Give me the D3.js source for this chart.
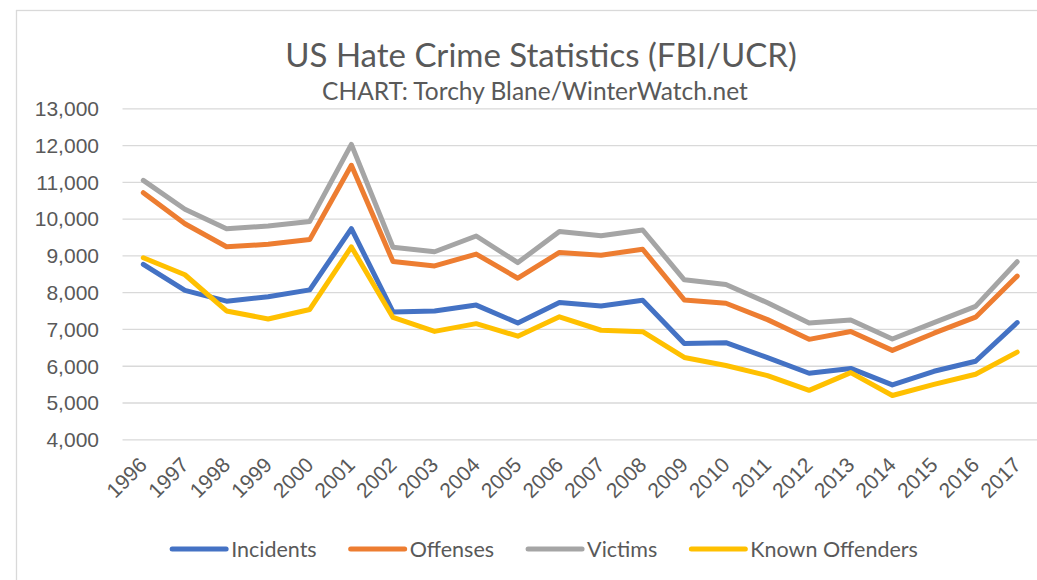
<!DOCTYPE html>
<html>
<head>
<meta charset="utf-8">
<script src="https://cdn.jsdelivr.net/npm/d3@7"></script>
<style>
  body { margin: 0; background: #fff; }
  svg { display: block; font-family: Lato, "Open Sans", sans-serif; }
</style>
</head>
<body>
<div id="chart"></div>
<script>
// data
var years = [1996, 1997, 1998, 1999, 2000, 2001, 2002, 2003, 2004, 2005, 2006,
             2007, 2008, 2009, 2010, 2011, 2012, 2013, 2014, 2015, 2016, 2017];

var incidents = [8759, 8049, 7755, 7876, 8063, 9730, 7462, 7489, 7649, 7163, 7722,
                 7624, 7783, 6604, 6628, 6222, 5796, 5928, 5479, 5850, 6121, 7175];
var offenses  = [10706, 9861, 9235, 9301, 9430, 11451, 8832, 8715, 9035, 8380, 9080,
                 9006, 9168, 7789, 7699, 7254, 6718, 6933, 6418, 6885, 7321, 8437];
var victims   = [11039, 10255, 9722, 9802, 9924, 12020, 9222, 9100, 9528, 8804, 9652,
                 9535, 9691, 8336, 8208, 7713, 7164, 7242, 6727, 7173, 7615, 8828];
var offenders = [8935, 8474, 7489, 7271, 7530, 9231, 7314, 6934, 7145, 6804, 7330,
                 6965, 6927, 6225, 6008, 5731, 5331, 5814, 5192, 5493, 5770, 6370];

var seriesNames  = ["Incidents", "Offenses", "Victims", "Known Offenders"];
var seriesColors = ["#4472C4", "#ED7D31", "#A5A5A5", "#FFC000"];
var yTicks = [4000, 5000, 6000, 7000, 8000, 9000, 10000, 11000, 12000, 13000];

var chartTitle = "US Hate Crime Statistics (FBI/UCR)";
var chartSubtitle = "CHART: Torchy Blane/WinterWatch.net";

var series = [incidents, offenses, victims, offenders].map(function(vals, i) {
  return { name: seriesNames[i], color: seriesColors[i], values: vals };
});

var width = 1037, height = 580;
var textColor = "#595959";
var plot = { left: 122.5, right: 1038, top: 108.3, bottom: 439.3 };

var svg = d3.select("#chart").append("svg")
  .attr("width", width)
  .attr("height", height);

// outer chart border (cut off on the right and bottom like the screenshot)
svg.append("rect")
  .attr("x", 16.5).attr("y", 10.5)
  .attr("width", 1100).attr("height", 700)
  .attr("fill", "#fff")
  .attr("stroke", "#d9d9d9")
  .attr("stroke-width", 1.3);

var x = d3.scaleBand()
  .domain(years)
  .range([plot.left, plot.right]);

var y = d3.scaleLinear()
  .domain([4000, 13000])
  .range([plot.bottom, plot.top]);

// gridlines
svg.append("g")
  .attr("transform", "translate(" + plot.left + ",0)")
  .call(d3.axisLeft(y).tickValues(yTicks).tickSize(-(plot.right - plot.left)).tickFormat(""))
  .call(function(g) {
    g.select(".domain").remove();
    g.selectAll("line").attr("stroke", "#d9d9d9").attr("stroke-width", 1.3);
  });

// y labels
svg.append("g")
  .attr("transform", "translate(" + 99 + ",0)")
  .call(d3.axisLeft(y).tickValues(yTicks).tickSize(0).tickPadding(0).tickFormat(d3.format(",")))
  .call(function(g) {
    g.select(".domain").remove();
    g.selectAll("text")
      .attr("fill", textColor)
      .attr("font-size", "21px")
      .attr("dy", "0.35em");
  });

// x labels, rotated
svg.append("g")
  .attr("transform", "translate(0," + plot.bottom + ")")
  .call(d3.axisBottom(x).tickSize(0).tickPadding(0))
  .call(function(g) {
    g.select(".domain").remove();
    g.selectAll("text")
      .attr("fill", textColor)
      .attr("font-size", "21px")
      .attr("text-anchor", "end")
      .attr("dy", null)
      .attr("y", 0)
      .attr("transform", "translate(5,27) rotate(-45)");
  });

// lines
var line = d3.line()
  .x(function(d, i) { return x(years[i]) + x.bandwidth() / 2; })
  .y(function(d) { return y(d); });

svg.append("g").selectAll("path")
  .data(series)
  .enter()
  .append("path")
  .attr("d", function(s) { return line(s.values); })
  .attr("fill", "none")
  .attr("stroke", function(s) { return s.color; })
  .attr("stroke-width", 5)
  .attr("stroke-linejoin", "round")
  .attr("stroke-linecap", "round");

// titles
svg.append("text")
  .attr("x", 541).attr("y", 67)
  .attr("text-anchor", "middle")
  .attr("fill", textColor)
  .attr("font-size", "33px")
  .text(chartTitle);

svg.append("text")
  .attr("x", 535).attr("y", 100)
  .attr("text-anchor", "middle")
  .attr("fill", textColor)
  .attr("font-size", "24.5px")
  .text(chartSubtitle);

// legend: swatch, then label; centred on the reference position
var legend = svg.append("g").attr("class", "legend");
var items = legend.selectAll("g")
  .data(series)
  .enter()
  .append("g");

items.append("line")
  .attr("x1", 0).attr("x2", 54)
  .attr("y1", 0).attr("y2", 0)
  .attr("stroke", function(s) { return s.color; })
  .attr("stroke-width", 5)
  .attr("stroke-linecap", "round");

items.append("text")
  .attr("x", 59)
  .attr("dy", "0.35em")
  .attr("fill", textColor)
  .attr("font-size", "21.5px")
  .text(function(s) { return s.name; });

var offset = 0;
var legendWidths = [];
items.each(function() {
  var w = 59 + d3.select(this).select("text").node().getComputedTextLength();
  legendWidths.push(w);
});
var total = d3.sum(legendWidths) + 34 * (legendWidths.length - 1);
var startX = 545 - total / 2;
items.attr("transform", function(d, i) {
  var tx = startX + offset;
  offset += legendWidths[i] + 34;
  return "translate(" + tx + "," + 549 + ")";
});
</script>
</body>
</html>
